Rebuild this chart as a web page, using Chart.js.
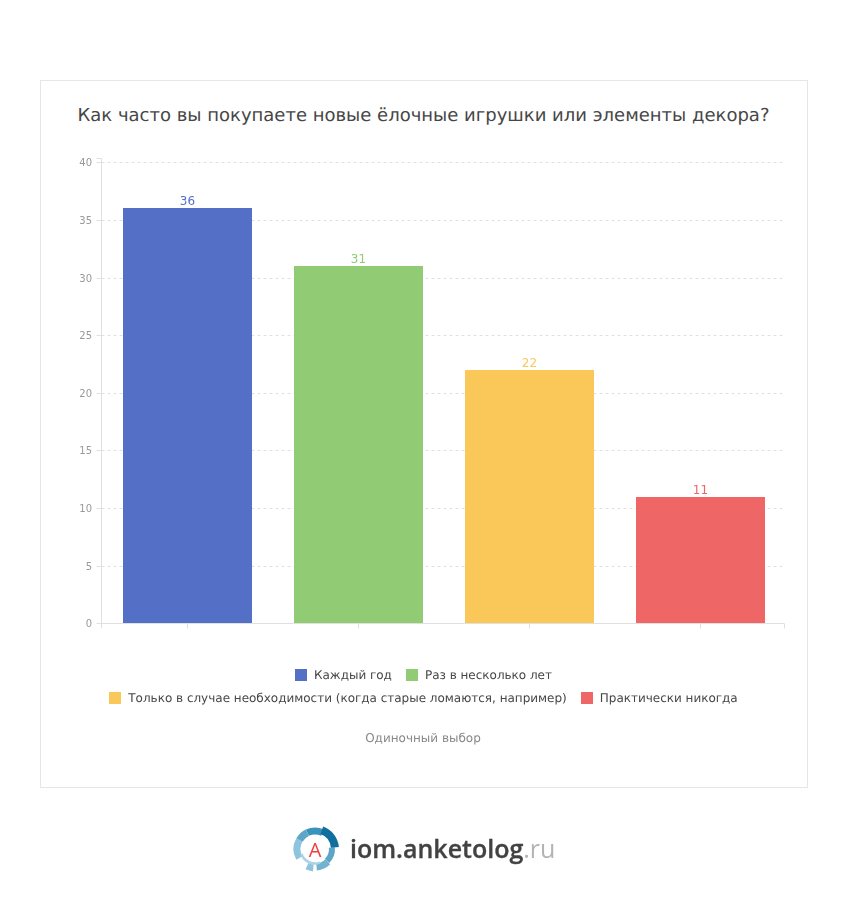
<!DOCTYPE html>
<html lang="ru"><head><meta charset="utf-8">
<script src="https://cdn.jsdelivr.net/npm/chart.js@4"></script>
<style>
html,body{margin:0;padding:0;background:#fff;width:848px;height:910px;overflow:hidden;font-family:"DejaVu Sans",sans-serif}
#card{position:absolute;left:40px;top:80px;width:766px;height:706px;border:1px solid #e6e6e6}
#c{position:absolute;left:0;top:0}
.t{position:absolute;white-space:nowrap}
#title{left:-.5px;width:848px;top:105px;text-align:center;font-size:18px;line-height:22px;color:#464646;text-rendering:geometricPrecision}
.leg{position:absolute;left:-.5px;width:848px;text-align:center;font-size:12px;line-height:16px;color:#464646;white-space:nowrap;text-rendering:geometricPrecision;letter-spacing:-.012px}
.leg span{display:inline-block;vertical-align:top}
.leg i{display:inline-block;width:12px;height:12px;margin:2px 7px 0 0;vertical-align:top}
.leg span+span{margin-left:14px}
#note{left:-1px;width:848px;top:730px;text-align:center;font-size:12px;line-height:16px;color:#888;text-rendering:geometricPrecision}
#brand{left:350px;top:830px;font-family:"Open Sans";font-weight:600;font-size:25px;line-height:36px;color:#424242;-webkit-text-stroke:.3px #424242}
#brand b{font-weight:400;color:#b3b3b3;-webkit-text-stroke:0}
</style></head><body>
<div id="card"></div>
<div id="title" class="t"></div>
<canvas id="c" width="848" height="910"></canvas>
<div id="leg1" class="leg" style="top:667px"></div>
<div id="leg2" class="leg" style="top:690px"></div>
<div id="note" class="t"></div>
<svg style="position:absolute;left:290px;top:824px" width="52" height="50" viewBox="0 0 52 50">
<g fill="none" stroke-width="7">
<path d="M9.4 34 A18 18 0 0 1 9.4 16" stroke="#8fc4de"/>
<path d="M9.4 16 A18 18 0 0 1 17.4 8.7" stroke="#5da6c8"/>
<path d="M17.4 8.7 A18 18 0 0 1 32.6 8.7" stroke="#3a93bc"/>
<path d="M41.9 23.5 A17 17 0 0 1 37 37" stroke="#5da6c8" stroke-width="6"/>
<path d="M37.7 37.7 A18 18 0 0 1 26.6 42.9" stroke="#74b2d0"/>
<path d="M23.3 43.9 A19 19 0 0 1 17 42.2" stroke="#8fc4de"/>
<path d="M31.8 6.2 A20 20 0 0 1 44.9 23.3" stroke="#0f6f9e" stroke-width="8"/>
</g>
<path d="M11.4 30 A14.500 14.500 0 0 0 30 38.600" fill="none" stroke="#a9d3e6" stroke-width="2.500"/>
<text x="25" y="32.500" text-anchor="middle" font-family="Open Sans" font-size="20" fill="#ef3f3f">A</text>
</svg>
<div id="brand" class="t"></div>
<script>
const titleText = "Как часто вы покупаете новые ёлочные игрушки или элементы декора?";
const noteText = "Одиночный выбор";
const brandMain = "iom.anketolog";
const brandEnd = ".ru";
const categories = ["Каждый год","Раз в несколько лет","Только в случае необходимости (когда старые ломаются, например)","Практически никогда"];
const values = [36,31,22,11];
const colors = ["#5470c6","#91cc75","#fac858","#ee6666"];
const yTicks = [0,5,10,15,20,25,30,35,40];

document.getElementById("title").textContent = titleText;
document.getElementById("note").textContent = noteText;
document.getElementById("brand").innerHTML = brandMain + "<b>" + brandEnd + "</b>";
function legendRow(id, idx){
  const el = document.getElementById(id);
  idx.forEach(i=>{
    const s = document.createElement("span");
    const m = document.createElement("i"); m.style.background = colors[i];
    s.appendChild(m); s.appendChild(document.createTextNode(categories[i]));
    el.appendChild(s);
  });
}
legendRow("leg1",[0,1]); legendRow("leg2",[2,3]);

const AXIS = "#e0e0e0";
const extras = {
  id:"extras",
  beforeDatasetsDraw(ch){
    const c = ch.ctx, a = ch.chartArea, sx = ch.scales.x, sy = ch.scales.y;
    const L = 101.5, R = 784.5, B = Math.round(a.bottom)+.5;
    ch.getDatasetMeta(0).data.forEach(b=>{ b.y = Math.round(b.y); b.base = Math.round(b.base); });
    c.save();
    c.lineWidth = 1; c.strokeStyle = AXIS;
    yTicks.forEach(v=>{
      const y = Math.round(sy.getPixelForValue(v))+.5;
      if(v>0){ c.setLineDash([3,3]); c.beginPath(); c.moveTo(L,y); c.lineTo(R,y); c.stroke(); }
      c.setLineDash([]); c.beginPath(); c.moveTo(L-5,y); c.lineTo(L,y); c.stroke();
    });
    c.beginPath();
    c.moveTo(L-5,Math.round(a.top)-3.5); c.lineTo(L,Math.round(a.top)-3.5); c.lineTo(L,B); c.lineTo(R,B);
    c.moveTo(L,B); c.lineTo(L,B+5);
    c.moveTo(R,B); c.lineTo(R,B+5);
    categories.forEach((_,i)=>{
      const x = Math.floor(sx.getPixelForValue(i))+.5;
      c.moveTo(x,B); c.lineTo(x,B+5);
    });
    c.stroke();
    c.restore();
  },
  afterDraw(ch){
    const c = ch.ctx;
    c.save();
    c.font = '12px "DejaVu Sans"'; c.textAlign = "center"; c.textBaseline = "bottom";
    ch.getDatasetMeta(0).data.forEach((b,i)=>{
      c.fillStyle = colors[i];
      c.fillText(String(values[i]), b.x, b.y);
    });
    c.restore();
  }
};
new Chart(document.getElementById("c"),{
  type:"bar",
  data:{labels:categories,datasets:[{data:values,backgroundColor:colors,borderWidth:0,barPercentage:129/171,categoryPercentage:1}]},
  plugins:[extras],
  options:{
    responsive:false,animation:false,devicePixelRatio:1,
    layout:{padding:{left:60,top:162.3,right:62,bottom:276.7}},
    plugins:{legend:{display:false},title:{display:false},tooltip:{enabled:false}},
    scales:{
      x:{
        afterFit(s){s.height=10},
        ticks:{display:false},
        grid:{display:false},
        border:{display:false}
      },
      y:{
        min:0,max:40,
        afterFit(s){s.width=42},
        afterBuildTicks(s){s.ticks=yTicks.map(v=>({value:v}))},
        ticks:{color:"#999",font:{size:10,family:'"DejaVu Sans"'},padding:5,labelOffset:1.4},
        grid:{display:false,tickLength:5},
        border:{display:false}
      }
    }
  }
});
</script>
</body></html>
